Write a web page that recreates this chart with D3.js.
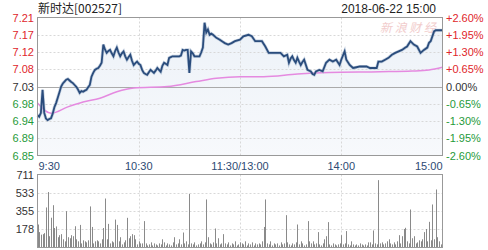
<!DOCTYPE html>
<html><head><meta charset="utf-8">
<script src="https://cdn.jsdelivr.net/npm/d3@7"></script>
<style>body{margin:0;background:#fff;}svg{display:block;font-family:Arial,"Liberation Sans",sans-serif;}</style>
</head><body><svg id="c" width="488" height="250"></svg>
<script>
const title = "新时达[002527]";
const stamp = "2018-06-22 15:00";
const prevClose = 7.03;
const priceTicks = [7.21, 7.17, 7.12, 7.08, 7.03, 6.98, 6.94, 6.89, 6.85];
const pctTicks = ["+2.60%", "+1.95%", "+1.30%", "+0.65%", "0.00%", "-0.65%", "-1.30%", "-1.95%", "-2.60%"];
const timeLabels = ["9:30", "10:30", "11:30/13:00", "14:00", "15:00"];
const timeLabelMinutes = [0, 60, 120, 180, 240];
const volTicks = [711, 533, 355, 178];

// price line: minute index (0 = 9:30, 120 = 11:30/13:00, 240 = 15:00) and price
const priceMinutes = [0,1,2,3,4,5,6,7,8,9,10,11,12,13,14,15,16,17,18,19,20,21,22,23,24,25,26,27,28,29,30,31,32,33,34,35,36,37,38,39,40,41,42,43,44,45,46,47,48,49,50,51,52,53,54,55,56,57,58,59,60,61,62,63,64,65,66,67,68,69,70,71,72,73,74,75,76,77,78,79,80,82,84,85,86,87,88,89,90,91,92,93,95,96,97,98,99,100,101,102,103,104,106,108,110,111,113,115,117,120,122,125,127,129,131,133,135,137,139,141,144,146,148,149,150,151,152,153,154,155,156,157,158,160,162,163,164,165,167,169,171,173,175,177,179,180,182,183,185,187,189,191,193,195,197,199,201,202,204,206,208,210,212,214,216,218,219,221,223,225,227,229,231,232,233,235,236,238,240];
const prices = [6.954,6.950,6.960,7.021,6.960,6.945,6.941,6.944,6.946,6.958,6.975,6.986,7.000,7.015,7.030,7.038,7.043,7.048,7.050,7.046,7.042,7.039,7.034,7.029,7.022,7.013,7.018,7.016,7.019,7.021,7.028,7.034,7.056,7.066,7.074,7.077,7.079,7.085,7.093,7.141,7.128,7.119,7.124,7.127,7.118,7.110,7.124,7.133,7.120,7.110,7.118,7.123,7.110,7.101,7.108,7.114,7.098,7.087,7.092,7.096,7.090,7.087,7.074,7.066,7.063,7.061,7.068,7.074,7.070,7.066,7.072,7.079,7.074,7.069,7.085,7.093,7.090,7.087,7.106,7.108,7.110,7.110,7.110,7.112,7.127,7.125,7.127,7.127,7.066,7.123,7.118,7.110,7.110,7.110,7.120,7.133,7.199,7.173,7.181,7.167,7.170,7.167,7.159,7.154,7.148,7.145,7.141,7.145,7.150,7.154,7.163,7.167,7.163,7.150,7.150,7.150,7.136,7.119,7.119,7.119,7.119,7.110,7.114,7.093,7.104,7.110,7.100,7.093,7.106,7.096,7.087,7.095,7.101,7.074,7.070,7.063,7.061,7.070,7.074,7.070,7.093,7.101,7.096,7.101,7.087,7.101,7.123,7.101,7.087,7.079,7.081,7.083,7.083,7.083,7.079,7.079,7.079,7.096,7.096,7.101,7.106,7.114,7.119,7.123,7.127,7.133,7.136,7.150,7.141,7.136,7.119,7.127,7.133,7.146,7.150,7.176,7.179,7.179,7.179];

// average price line
const avgMinutes = [0,8,18,27,37,47,57,77,94,106,120,134,154,173,203,222,232,240];
const avgPrices = [6.986,6.959,6.976,6.989,6.999,7.016,7.026,7.030,7.043,7.052,7.056,7.056,7.063,7.067,7.069,7.071,7.074,7.081];

// volume per minute (index 0..240)
const volumes = [224,150,125,130,140,390,540,110,290,412,
190,205,100,120,130,80,60,354,100,90,
120,110,207,80,60,220,40,70,60,50,
70,400,200,40,60,70,60,40,80,190,
477,80,230,40,60,50,272,220,60,100,
30,50,70,289,90,110,130,120,80,30,
60,40,40,257,40,20,30,50,20,40,
30,20,40,30,80,50,20,40,30,20,
50,100,30,40,80,30,146,40,60,30,
522,40,30,50,20,30,40,60,30,50,
468,100,40,30,50,185,40,90,30,40,
130,40,30,50,20,40,30,60,20,30,
50,40,30,60,20,40,30,50,20,40,
30,40,30,60,200,468,40,30,60,20,
40,30,40,20,50,30,40,315,50,30,
20,40,30,50,224,30,60,40,20,30,
257,60,40,60,30,40,150,30,20,40,
80,110,247,30,20,40,30,20,30,40,
120,30,40,160,30,20,60,30,20,30,
20,40,30,20,30,20,50,50,30,166,
40,30,656,40,50,30,40,60,80,40,
30,50,30,60,120,40,110,180,192,60,
40,370,90,110,40,50,70,60,80,150,
180,60,250,70,419,80,565,100,60,30,0];

const svg = d3.select("#c");
const L = 37.5, R = 442.5, T = 17.5, B = 155.5, VT = 174.5, VB = 247.5;
const x = d3.scaleLinear().domain([0, 240]).range([L, R]);
const span = prevClose * 0.026;
const y = d3.scaleLinear().domain([prevClose - span, prevClose + span]).range([B, T]);
const yv = d3.scaleLinear().domain([0, 711]).range([VB, VT]);

const red = "#e0262b", green = "#1f9a3a", gridC = "#d8d8d8", lab = "#333";

// area fill under price
const defs = svg.append("defs");
const g = defs.append("linearGradient").attr("id","ag").attr("x1",0).attr("x2",0).attr("y1",0).attr("y2",1);
g.append("stop").attr("offset","0%").attr("stop-color","#edf2f8");
g.append("stop").attr("offset","100%").attr("stop-color","#f7f9fc");
const pts = priceMinutes.map((m,i)=>[m, prices[i]]);
svg.append("path").datum(pts)
  .attr("d", d3.area().x(d=>x(d[0])).y0(B).y1(d=>y(d[1])))
  .attr("fill","url(#ag)");

// horizontal grid
priceTicks.forEach((t,i)=>{
  const yy = Math.round(y(prevClose + span*(4-i)/4)) + 0.5;
  if (i===0 || i===8) return;
  svg.append("line").attr("x1",L).attr("x2",R).attr("y1",yy).attr("y2",yy)
    .attr("stroke", i===4 ? "#aaa" : gridC).attr("stroke-dasharray", i===4 ? null : "2,2");
});
// vertical grid
[60,120,180].forEach(m=>{
  const xx = Math.round(x(m))+0.5;
  svg.append("line").attr("x1",xx).attr("x2",xx).attr("y1",T).attr("y2",B).attr("stroke",gridC).attr("stroke-dasharray","2,2");
  svg.append("line").attr("x1",xx).attr("x2",xx).attr("y1",VT).attr("y2",VB).attr("stroke",gridC).attr("stroke-dasharray","2,2");
});
// volume horizontal grid
volTicks.forEach((v,i)=>{
  if (i===0) return;
  const yy = Math.round(yv(v))+0.5;
  svg.append("line").attr("x1",L).attr("x2",R).attr("y1",yy).attr("y2",yy).attr("stroke",gridC).attr("stroke-dasharray","2,2");
});

// watermark
svg.append("text").attr("x",408).attr("y",32).attr("text-anchor","middle")
  .attr("font-size",12).attr("font-style","italic").attr("fill","#f0c4c4").attr("opacity",0.85)
  .attr("font-family","'Noto Sans CJK SC'").text("新 浪 财 经");

// average line
svg.append("path").datum(avgMinutes.map((m,i)=>[m,avgPrices[i]]))
  .attr("d", d3.line().x(d=>x(d[0])).y(d=>y(d[1])).curve(d3.curveMonotoneX))
  .attr("fill","none").attr("stroke","#e58ae0").attr("stroke-width",1.5);

// price line (shadow + line)
const pl = d3.line().x(d=>x(d[0])).y(d=>y(d[1]));
svg.append("path").datum(pts).attr("d",pl).attr("fill","none").attr("stroke","#9fb3cc").attr("stroke-width",3.2).attr("opacity",0.6);
svg.append("path").datum(pts).attr("d",pl).attr("fill","none").attr("stroke","#2a4c7c").attr("stroke-width",1.8);

// volume bars
svg.append("g").selectAll("line").data(volumes).join("line")
  .attr("x1",(d,i)=>Math.round(x(i))+0.5).attr("x2",(d,i)=>Math.round(x(i))+0.5)
  .attr("y1",VB).attr("y2",d=>yv(d)).attr("stroke","#8a8a8a").attr("stroke-width",1);

// frames
svg.append("rect").attr("x",L).attr("y",T).attr("width",R-L).attr("height",B-T).attr("fill","none").attr("stroke","#999");
svg.append("rect").attr("x",L).attr("y",VT).attr("width",R-L).attr("height",VB-VT).attr("fill","none").attr("stroke","#999");

// left price labels
priceTicks.forEach((t,i)=>{
  svg.append("text").attr("x",34).attr("y",y(prevClose + span*(4-i)/4)+4).attr("text-anchor","end")
    .attr("font-size",11).attr("fill", i<4 ? red : (i===4 ? lab : green)).text(t.toFixed(2));
  svg.append("text").attr("x",446).attr("y",y(prevClose + span*(4-i)/4)+4).attr("text-anchor","start")
    .attr("font-size",11).attr("fill", i<4 ? red : (i===4 ? lab : green)).text(pctTicks[i]);
});
// time labels
timeLabels.forEach((t,i)=>{
  const m = timeLabelMinutes[i];
  const anchor = i===0 ? "start" : (i===4 ? "end" : "middle");
  svg.append("text").attr("x", x(m) + (i===0 ? 1 : 0)).attr("y",170).attr("text-anchor",anchor)
    .attr("font-size",11).attr("fill","#2d4a73").text(t);
});
// volume labels
volTicks.forEach(v=>{
  svg.append("text").attr("x",34).attr("y",yv(v)+4).attr("text-anchor","end").attr("font-size",11).attr("fill",lab).text(v);
});
// title & stamp
svg.append("text").attr("x",38).attr("y",13).attr("font-size",12).attr("fill","#222")
  .attr("font-family","'Noto Sans CJK SC',sans-serif").text(title);
svg.append("text").attr("x",436).attr("y",13).attr("text-anchor","end").attr("font-size",12).attr("fill","#222").text(stamp);
</script></body></html>
